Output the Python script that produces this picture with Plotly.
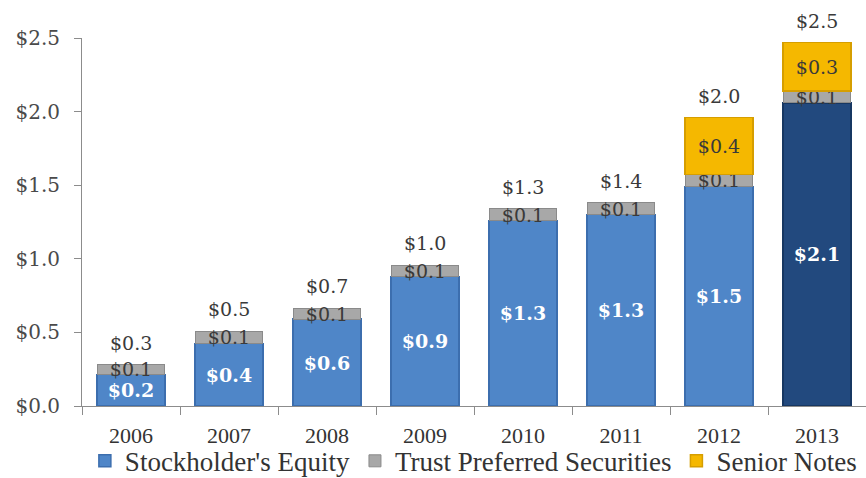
import plotly.graph_objects as go

# Capital structure by year ($ billions)
years = ["2006", "2007", "2008", "2009", "2010", "2011", "2012", "2013"]
equity = [0.215, 0.424, 0.59, 0.88, 1.26, 1.30, 1.49, 2.06]
trust_preferred = [0.066, 0.085, 0.075, 0.075, 0.08, 0.08, 0.084, 0.079]
senior_notes = [None, None, None, None, None, None, 0.385, 0.33]

totals = [e + t + (s or 0) for e, t, s in zip(equity, trust_preferred, senior_notes)]

NUM_FONT = "DejaVu Serif"
TXT_FONT = "Liberation Serif"

equity_colors = ["#4F86C8"] * 7 + ["#22497E"]
equity_lines = ["#3C6EAE"] * 7 + ["#173762"]

fig = go.Figure()

fig.add_trace(go.Bar(
    x=years, y=equity, name="Stockholder's Equity",
    marker=dict(color=equity_colors, line=dict(color=equity_lines, width=1.5)),
    texttemplate="$%{y:.1f}", textposition="inside", insidetextanchor="middle",
    textangle=0, constraintext="none",
    textfont=dict(family=NUM_FONT, size=19, color="white", weight="bold"),
))
fig.add_trace(go.Bar(
    x=years, y=trust_preferred, name="Trust Preferred Securities",
    marker=dict(color="#A8A8A8", line=dict(color="#8A8A8A", width=1)),
    texttemplate="$%{y:.1f}", textposition="inside", insidetextanchor="middle",
    textangle=0, constraintext="none",
    textfont=dict(family=NUM_FONT, size=19, color="#3A3A3A"),
))
fig.add_trace(go.Bar(
    x=years, y=senior_notes, name="Senior Notes",
    marker=dict(color="#F5B800", line=dict(color="#D69E00", width=1.5)),
    texttemplate="$%{y:.1f}", textposition="inside", insidetextanchor="middle",
    textangle=0, constraintext="none",
    textfont=dict(family=NUM_FONT, size=19, color="#3A3A3A"),
))

# Year totals above each stack (x given as category index)
for i, tot in enumerate(totals):
    fig.add_annotation(
        x=i, y=tot, xref="x", yref="y", text=f"${tot:.1f}", showarrow=False,
        yanchor="bottom", yshift=9,
        font=dict(family=NUM_FONT, size=19, color="#3A3A3A"),
    )

fig.update_layout(
    width=866, height=478,
    barmode="stack", bargap=0.31,
    plot_bgcolor="white", paper_bgcolor="white",
    margin=dict(l=82, r=0, t=38, b=72, autoexpand=False),
    uniformtext=dict(mode=False),
    showlegend=True,
    legend=dict(
        orientation="h", xref="container", yref="container",
        x=0.098, y=0.035, xanchor="left", yanchor="middle",
        traceorder="normal",
        font=dict(family=TXT_FONT, size=27, color="#333333"),
        itemwidth=30, tracegroupgap=0,
        bgcolor="rgba(0,0,0,0)",
    ),
)

fig.update_xaxes(
    type="category",
    range=[-0.5, 7.5], showline=True, linecolor="#8C8C8C", linewidth=1,
    ticks="outside", tickson="boundaries", ticklen=8, tickcolor="#8C8C8C",
    ticklabelstandoff=10,
    tickfont=dict(family=TXT_FONT, size=22, color="#333333"),
    showgrid=False, zeroline=False,
)
fig.update_yaxes(
    range=[0, 2.5], dtick=0.5, tickprefix="$", tickformat=".1f",
    showline=True, linecolor="#8C8C8C", linewidth=1,
    ticks="outside", ticklen=7, tickcolor="#8C8C8C",
    ticklabelstandoff=10,
    tickfont=dict(family=NUM_FONT, size=20, color="#4A4A4A"),
    showgrid=False, zeroline=False,
)

fig.write_html("out.html")
